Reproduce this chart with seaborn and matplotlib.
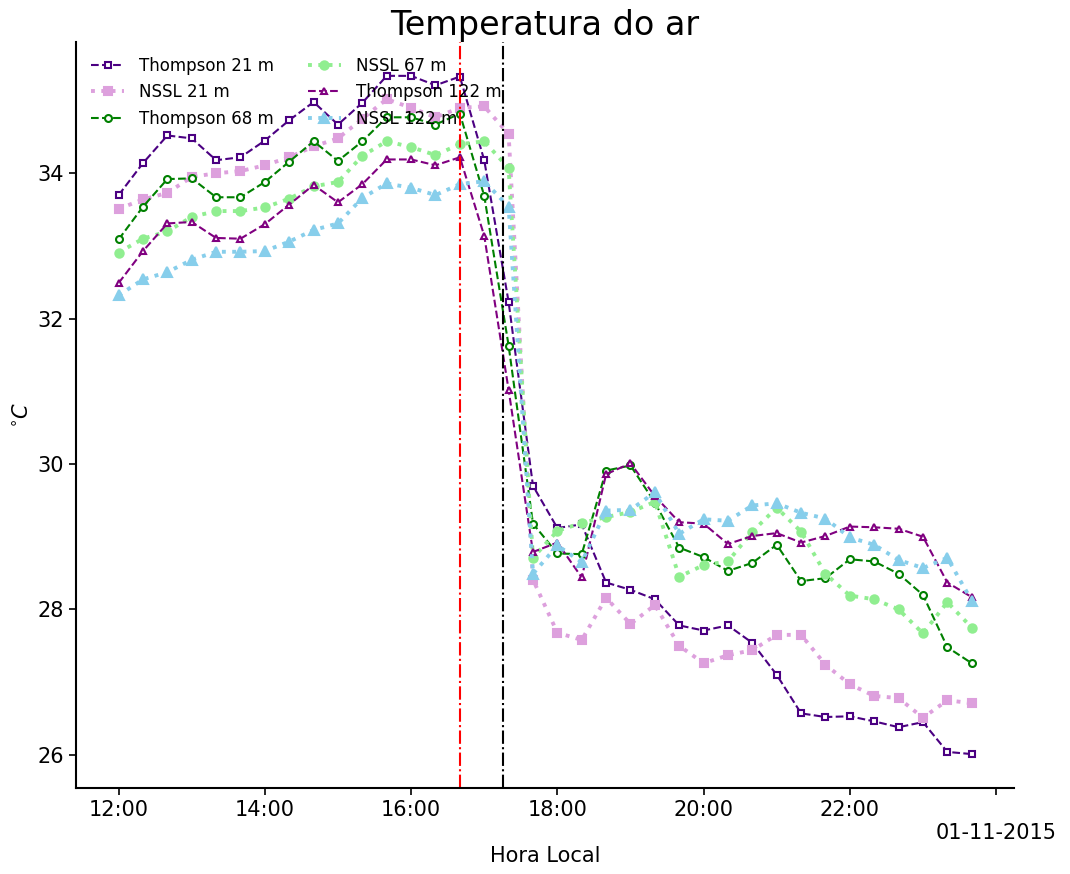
import numpy as np
import pandas as pd
import matplotlib
matplotlib.use("Agg")
import matplotlib.pyplot as plt
import seaborn as sns

# horas locais (12:00 ate 23:40, a cada 20 min)
horas = [12 + i / 3 for i in range(36)]

thompson_21 = [33.70, 34.14, 34.52, 34.48, 34.18, 34.22, 34.45, 34.73, 34.98, 34.67,
               34.97, 35.34, 35.34, 35.21, 35.33, 34.18, 32.23, 29.70, 29.12, 29.17,
               28.37, 28.27, 28.14, 27.78, 27.71, 27.78, 27.54, 27.10, 26.57, 26.52,
               26.53, 26.46, 26.38, 26.45, 26.04, 26.01]
nssl_21 = [33.51, 33.64, 33.73, 33.95, 34.00, 34.03, 34.11, 34.22, 34.37, 34.48,
           34.75, 35.02, 34.90, 34.77, 34.90, 34.92, 34.54, 28.41, 27.68, 27.58,
           28.16, 27.80, 28.06, 27.50, 27.26, 27.37, 27.44, 27.65, 27.65, 27.24,
           26.97, 26.81, 26.78, 26.51, 26.75, 26.71]
thompson_68 = [33.09, 33.54, 33.92, 33.93, 33.67, 33.67, 33.88, 34.16, 34.44, 34.17,
               34.44, 34.77, 34.77, 34.67, 34.82, 33.69, 31.63, 29.18, 28.77, 28.76,
               29.91, 29.98, 29.47, 28.85, 28.72, 28.53, 28.64, 28.89, 28.39, 28.43,
               28.69, 28.66, 28.49, 28.20, 27.48, 27.26]
nssl_67 = [32.91, 33.10, 33.20, 33.40, 33.48, 33.48, 33.53, 33.65, 33.82, 33.88,
           34.24, 34.44, 34.36, 34.25, 34.40, 34.44, 34.07, 28.71, 29.08, 29.19,
           29.27, 29.34, 29.48, 28.45, 28.61, 28.66, 29.07, 29.40, 29.07, 28.49,
           28.19, 28.14, 28.00, 27.67, 28.10, 27.75]
thompson_122 = [32.49, 32.93, 33.31, 33.33, 33.11, 33.10, 33.30, 33.57, 33.84, 33.60,
                33.85, 34.19, 34.19, 34.11, 34.22, 33.14, 31.02, 28.79, 28.92, 28.44,
                29.86, 30.01, 29.56, 29.20, 29.18, 28.90, 29.01, 29.05, 28.92, 29.01,
                29.14, 29.13, 29.11, 29.00, 28.37, 28.17]
nssl_122 = [32.32, 32.54, 32.64, 32.81, 32.92, 32.92, 32.93, 33.06, 33.22, 33.31,
            33.66, 33.86, 33.80, 33.70, 33.85, 33.89, 33.54, 28.49, 28.88, 28.65,
            29.36, 29.37, 29.61, 29.04, 29.24, 29.22, 29.43, 29.46, 29.33, 29.25,
            28.99, 28.89, 28.68, 28.57, 28.71, 28.12]

tick_pos = [12, 14, 16, 18, 20, 22, 24]
tick_labels = ['12:00', '14:00', '16:00', '18:00', '20:00', '22:00', '\n01-11-2015']

sns.set_style("ticks", {"axes.edgecolor": "black", "text.color": "black",
                        "axes.labelcolor": "black", "xtick.color": "black",
                        "ytick.color": "black"})

fig = plt.figure(figsize=(10.7, 8.74), dpi=100)
ax = fig.add_axes([0.071, 0.0984, 0.877, 0.8536])

series = [
    ("Thompson 21 m", thompson_21, "#4B0082", "--", "s", "white", 5, 1.5),
    ("NSSL 21 m", nssl_21, "#DDA0DD", ":", "s", "#DDA0DD", 6, 2.8),
    ("Thompson 68 m", thompson_68, "#008000", "--", "o", "white", 5, 1.5),
    ("NSSL 67 m", nssl_67, "#90EE90", ":", "o", "#90EE90", 6, 2.8),
    ("Thompson 122 m", thompson_122, "#800080", "--", "^", "white", 5, 1.5),
    ("NSSL 122 m", nssl_122, "#87CEEB", ":", "^", "#87CEEB", 6.5, 2.8),
]

for nome, vals, cor, ls, mk, mfc, ms, lw in series:
    sns.lineplot(x=horas, y=vals, ax=ax, color=cor, linestyle=ls, marker=mk,
                 markerfacecolor=mfc, markeredgecolor=cor, markersize=ms,
                 markeredgewidth=1.5, linewidth=lw, label=nome)

ax.axvline(16 + 40 / 60, color="red", linestyle="-.", linewidth=1.5)
ax.axvline(17 + 15 / 60, color="black", linestyle="-.", linewidth=1.5)

ax.set_xticks(tick_pos)
ax.set_xticklabels(tick_labels)
ax.tick_params(labelsize=15, direction="out", length=5, width=1.2, colors="black")
ax.set_title("Temperatura do ar", fontsize=24, pad=2, color="black")
ax.set_xlabel("Hora Local", fontsize=15, labelpad=2)
ax.set_ylabel(r"$^{\circ}C$", fontsize=15)
for s in ["left", "bottom"]:
    ax.spines[s].set_linewidth(1.5)
sns.despine(ax=ax)

leg = ax.legend(loc="upper left", ncol=2, frameon=False, fontsize=12,
                handlelength=2, handletextpad=0.9, columnspacing=2.0,
                labelspacing=0.5)
for t in leg.get_texts():
    t.set_color("black")

fig.savefig("out.png", dpi=100)
